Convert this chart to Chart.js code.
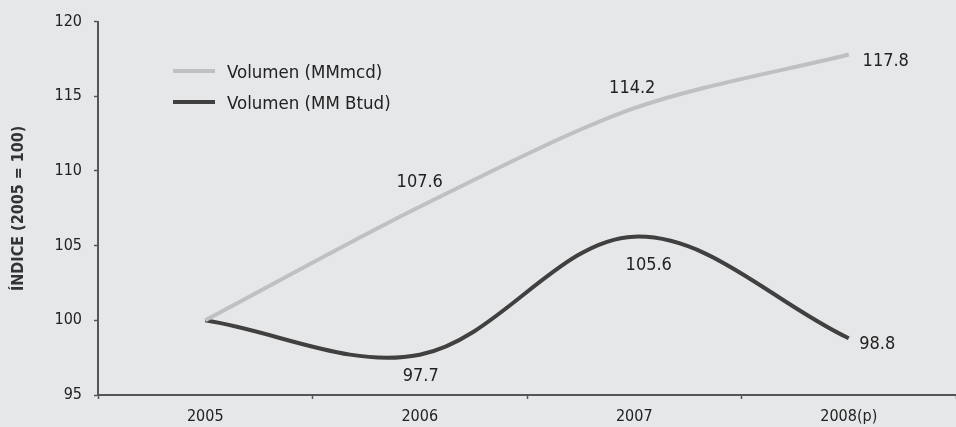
<!DOCTYPE html>
<html>
<head>
<meta charset="utf-8">
<script src="https://cdn.jsdelivr.net/npm/chart.js@4"></script>
<style>
  html, body { margin: 0; padding: 0; background: #e6e7e9; }
  #wrap { width: 956px; height: 427px; }
</style>
</head>
<body>
<div id="wrap"><canvas id="c" width="956" height="427"></canvas></div>
<script>
const categories = ['2005', '2006', '2007', '2008(p)'];
const seriesNames = ['Volumen (MMmcd)', 'Volumen (MM Btud)'];
const volumenMMmcd = [100, 107.6, 114.2, 117.8];
const volumenMMBtud = [100, 97.7, 105.6, 98.8];
const yMin = 95, yMax = 120, yStep = 5;
const yTitle = 'ÍNDICE (2005 = 100)';

const FONT = "'DejaVu Sans Condensed', 'Liberation Sans', sans-serif";
const TEXT = '#222222';
const AXIS = '#555555';
const LIGHT = '#bfc0c2';
const DARK = '#404040';

const valueLabels = {
  id: 'valueLabels',
  afterDatasetsDraw(chart, args, opts) {
    const ctx = chart.ctx;
    ctx.save();
    ctx.font = '18px ' + FONT;
    ctx.fillStyle = TEXT;
    ctx.textAlign = 'center';
    ctx.textBaseline = 'middle';
    chart.data.datasets.forEach((ds, di) => {
      const meta = chart.getDatasetMeta(di);
      const offs = opts.offsets[di];
      meta.data.forEach((pt, i) => {
        const o = offs[i];
        if (!o) return;
        ctx.fillText(ds.data[i].toFixed(1), pt.x + o[0], pt.y + o[1]);
      });
    });
    ctx.restore();
  }
};

const customLegend = {
  id: 'customLegend',
  afterDraw(chart, args, opts) {
    const ctx = chart.ctx;
    ctx.save();
    chart.data.datasets.forEach((ds, i) => {
      const ly = opts.lineY[i], ty = opts.textY[i];
      ctx.strokeStyle = ds.borderColor;
      ctx.lineWidth = 4;
      ctx.beginPath();
      ctx.moveTo(opts.x0, ly);
      ctx.lineTo(opts.x1, ly);
      ctx.stroke();
      ctx.font = '18.5px ' + FONT;
      ctx.fillStyle = TEXT;
      ctx.textAlign = 'left';
      ctx.textBaseline = 'middle';
      ctx.fillText(ds.label, opts.tx, ty);
    });
    ctx.restore();
  }
};

new Chart(document.getElementById('c'), {
  type: 'line',
  data: {
    labels: categories,
    datasets: [
      { label: seriesNames[0], data: volumenMMmcd, borderColor: LIGHT, borderWidth: 4,
        pointRadius: 0, tension: 0.3, fill: false },
      { label: seriesNames[1], data: volumenMMBtud, borderColor: DARK, borderWidth: 4,
        pointRadius: 0, tension: 0.35, fill: false }
    ]
  },
  options: {
    responsive: false,
    animation: false,
    layout: { padding: { top: 16, right: 0, left: 0, bottom: 0 } },
    plugins: {
      legend: { display: false },
      tooltip: { enabled: false },
      valueLabels: {
        offsets: [
          [null, [0, -24], [-2, -19.5], [37, 7]],
          [null, [1, 22], [14.5, 29], [28.5, 6.3]]
        ]
      },
      customLegend: { x0: 173, x1: 215, tx: 227, lineY: [71, 102], textY: [73, 104.5] }
    },
    scales: {
      x: {
        type: 'category',
        offset: true,
        afterFit: s => { s.height = 32; },
        grid: { offset: true, drawOnChartArea: false, tickLength: 4, tickColor: AXIS, tickWidth: 1.5 },
        border: { color: AXIS, width: 2 },
        ticks: { color: TEXT, font: { family: FONT, size: 16 }, padding: 8, maxRotation: 0 }
      },
      y: {
        min: yMin, max: yMax,
        afterFit: s => { s.width = 98; },
        grid: { drawOnChartArea: false, tickLength: 4, tickColor: AXIS, tickWidth: 1.5 },
        border: { color: AXIS, width: 2 },
        ticks: { stepSize: yStep, color: TEXT, font: { family: FONT, size: 16 }, padding: 12 },
        title: { display: true, text: yTitle, color: '#333333', padding: { top: 9, bottom: 0 },
                 font: { family: FONT, size: 16, weight: 'bold' } }
      }
    }
  },
  plugins: [valueLabels, customLegend]
});
</script>
</body>
</html>
